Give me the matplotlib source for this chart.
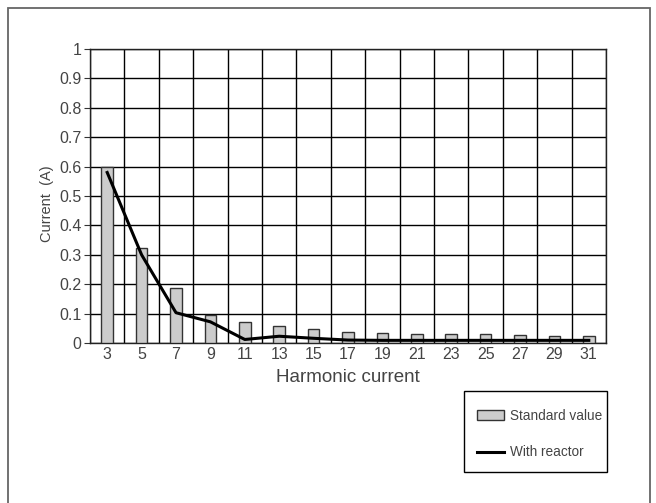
import matplotlib
matplotlib.use("Agg")
import matplotlib.pyplot as plt
import numpy as np
from matplotlib.patches import Rectangle
from matplotlib.lines import Line2D
from matplotlib.patches import Patch

plt.rcParams["font.family"] = ["Liberation Sans", "DejaVu Sans"]

harmonics = [3, 5, 7, 9, 11, 13, 15, 17, 19, 21, 23, 25, 27, 29, 31]
standard_value = [0.60, 0.322, 0.186, 0.094, 0.070, 0.057, 0.049, 0.039,
                  0.034, 0.032, 0.029, 0.029, 0.027, 0.025, 0.025]
with_reactor = [0.58, 0.30, 0.103, 0.072, 0.012, 0.023, 0.016, 0.010,
                0.009, 0.009, 0.009, 0.009, 0.009, 0.009, 0.009]
y_ticks = [0, 0.1, 0.2, 0.3, 0.4, 0.5, 0.6, 0.7, 0.8, 0.9, 1]
y_tick_labels = ["0", "0.1", "0.2", "0.3", "0.4", "0.5", "0.6", "0.7",
                 "0.8", "0.9", "1"]

text_color = "#444444"
W, H = 656, 503

fig = plt.figure(figsize=(6.56, 5.03), dpi=100)
ax = fig.add_axes([90 / W, 1 - 343 / H, (606 - 90) / W, (343 - 49) / H])

pos = np.arange(len(harmonics))
ax.bar(pos, standard_value, width=0.34, color="#cccccc", edgecolor="#333333",
       linewidth=1.0, zorder=3)
ax.plot(pos, with_reactor, color="black", linewidth=2.2, zorder=4)

ax.set_xlim(-0.5, len(harmonics) - 0.5)
ax.set_ylim(0, 1)
ax.set_xticks(pos)
ax.set_xticklabels([str(h) for h in harmonics])
ax.set_xticks(np.arange(-0.5, len(harmonics), 1.0), minor=True)
ax.set_yticks(y_ticks)
ax.set_yticklabels(y_tick_labels)

ax.grid(True, which="major", axis="y", color="black", linewidth=1.0, zorder=1)
ax.grid(True, which="minor", axis="x", color="black", linewidth=1.0, zorder=1)
ax.tick_params(axis="x", which="both", length=0, labelsize=11.5,
               labelcolor=text_color, pad=3)
ax.tick_params(axis="y", length=4, width=0.8, color="#333333", labelsize=11.5,
               labelcolor=text_color, pad=2)
for spine in ax.spines.values():
    spine.set_color("#222222")
    spine.set_linewidth(1.0)

ax.set_xlabel("Harmonic current", fontsize=13.5, color=text_color, labelpad=5)
ax.set_ylabel("Current  (A)", fontsize=10.5, color=text_color)
ax.yaxis.set_label_coords(-0.07, 0.473)

# legend: box drawn separately so the padding can match the original
fig.patches.append(Rectangle((464 / W, 1 - 472 / H), (607 - 464) / W, (472 - 391) / H,
                             transform=fig.transFigure, fill=False,
                             edgecolor="black", linewidth=1.0))
handles = [Patch(facecolor="#cccccc", edgecolor="#333333", linewidth=1.0),
           Line2D([0], [0], color="black", linewidth=2.2)]
leg = fig.legend(handles, ["Standard value", "With reactor"],
                 loc="upper left", bbox_to_anchor=(477 / W, 1 - 409 / H),
                 frameon=False, fontsize=9.8, labelspacing=1.65, borderpad=0,
                 handlelength=2.0, handletextpad=0.4, borderaxespad=0)
for t in leg.get_texts():
    t.set_color(text_color)

# outer frame around the whole chart
fig.patches.append(Rectangle((8 / W, -0.05), (650 - 8) / W, 1.05 - 8 / H,
                             transform=fig.transFigure, fill=False,
                             edgecolor="#666666", linewidth=1.3))

fig.savefig("out.png", dpi=100)
